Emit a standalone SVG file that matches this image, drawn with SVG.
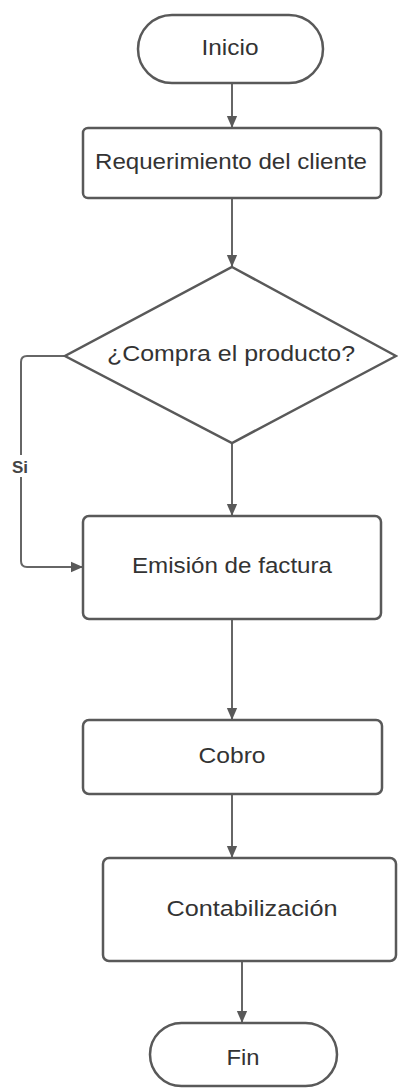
<svg xmlns="http://www.w3.org/2000/svg" width="398" height="1089" viewBox="0 0 398 1089">
<style>
.shape{fill:#ffffff;stroke:#595959;stroke-width:2.5}
.lbl{font-family:"Liberation Sans",Arial,sans-serif;font-size:22px;fill:#333333;text-anchor:middle}
.edge{fill:none;stroke:#666666;stroke-width:2}
.elbl{font-family:"Liberation Sans",Arial,sans-serif;font-size:17px;font-weight:bold;fill:#444444;text-anchor:middle}
</style>
<defs>
<marker id="arrow" markerUnits="userSpaceOnUse" markerWidth="12" markerHeight="16" refX="14" refY="6" viewBox="0 0 14 12" orient="auto">
<path d="M0,0 L14,6 L0,12 Z" fill="#595959"/>
</marker>
</defs>
<rect width="398" height="1089" fill="#ffffff"/>
<g id="connectors">
<path class="edge" d="M232,83 L232,128" marker-end="url(#arrow)"/>
<path class="edge" d="M232,198 L232,267" marker-end="url(#arrow)"/>
<path class="edge" d="M232,443 L232,516" marker-end="url(#arrow)"/>
<path class="edge" d="M65,356 L27,356 Q21,356 21,362 L21,561 Q21,567 27,567 L83,567" marker-end="url(#arrow)"/>
<rect x="10" y="455" width="22" height="22" fill="#ffffff"/>
<text class="elbl" x="20" y="473">Si</text>
<path class="edge" d="M232,619 L232,720" marker-end="url(#arrow)"/>
<path class="edge" d="M232,794 L232,858" marker-end="url(#arrow)"/>
<path class="edge" d="M242,961 L242,1023" marker-end="url(#arrow)"/>
</g>
<g id="inicio">
<rect class="shape" x="138" y="15" width="185" height="68" rx="34"/>
<text class="lbl" x="230" y="55" textLength="57" lengthAdjust="spacingAndGlyphs">Inicio</text>
</g>
<g id="requerimiento">
<rect class="shape" x="83" y="128" width="298" height="70" rx="5"/>
<text class="lbl" x="231" y="169" textLength="272" lengthAdjust="spacingAndGlyphs">Requerimiento del cliente</text>
</g>
<g id="decision">
<polygon class="shape" points="232,267 396,356 232,443 65,356"/>
<text class="lbl" x="231" y="361" textLength="248" lengthAdjust="spacingAndGlyphs">¿Compra el producto?</text>
</g>
<g id="emision">
<rect class="shape" x="83" y="516" width="298" height="103" rx="6"/>
<text class="lbl" x="232" y="573" textLength="200" lengthAdjust="spacingAndGlyphs">Emisión de factura</text>
</g>
<g id="cobro">
<rect class="shape" x="83" y="720" width="299" height="74" rx="6"/>
<text class="lbl" x="232" y="763" textLength="67" lengthAdjust="spacingAndGlyphs">Cobro</text>
</g>
<g id="contabilizacion">
<rect class="shape" x="103" y="858" width="293" height="103" rx="6"/>
<text class="lbl" x="252" y="916" textLength="171" lengthAdjust="spacingAndGlyphs">Contabilización</text>
</g>
<g id="fin">
<rect class="shape" x="150" y="1023" width="187" height="63" rx="31.5"/>
<text class="lbl" x="243" y="1065" textLength="33" lengthAdjust="spacingAndGlyphs">Fin</text>
</g>
</svg>
